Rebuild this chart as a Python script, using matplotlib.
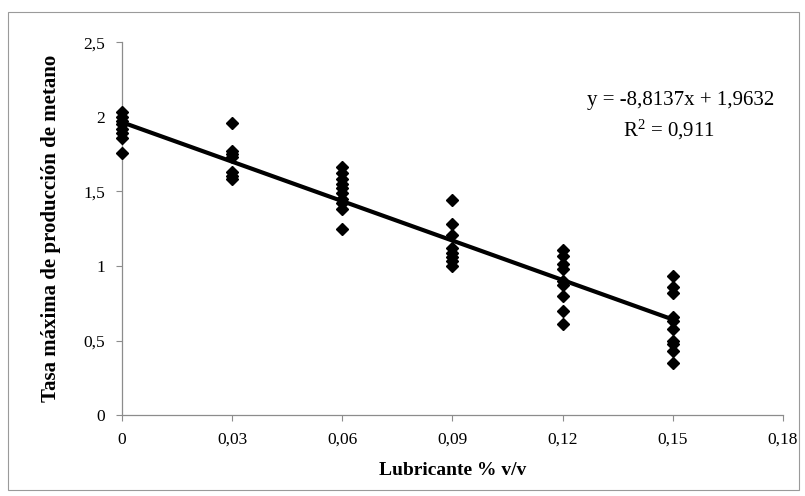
import matplotlib
matplotlib.use("Agg")
import matplotlib.pyplot as plt
from matplotlib.ticker import FuncFormatter
from matplotlib.patches import Rectangle

# lubricant dose (% v/v) and measured max methane production rate
x_levels = [0, 0.03, 0.06, 0.09, 0.12, 0.15]
y_0 = [2.03, 2.0, 1.97, 1.95, 1.92, 1.89, 1.86, 1.76]
y_03 = [1.96, 1.77, 1.75, 1.73, 1.63, 1.60, 1.58]
y_06 = [1.66, 1.62, 1.58, 1.55, 1.52, 1.49, 1.45, 1.42, 1.38, 1.25]
y_09 = [1.44, 1.28, 1.21, 1.12, 1.09, 1.06, 1.03, 1.00]
y_12 = [1.11, 1.07, 1.01, 0.98, 0.90, 0.87, 0.80, 0.70, 0.61]
y_15 = [0.93, 0.86, 0.82, 0.66, 0.63, 0.58, 0.50, 0.48, 0.43, 0.35]
groups = [y_0, y_03, y_06, y_09, y_12, y_15]

slope = -8.8137
intercept = 1.9632
r2 = 0.911

plt.rcParams['font.family'] = ['Liberation Serif', 'DejaVu Serif']

fig = plt.figure(figsize=(8.05, 4.96), dpi=100)
ax = fig.add_axes([0.1516, 0.163, 0.821, 0.752])

# outer frame around the whole chart
fig.patches.append(Rectangle((0.010, 0.012), 0.983, 0.964, transform=fig.transFigure,
                             fill=False, edgecolor='#9a9a9a', linewidth=0.8))

for xv, ys in zip(x_levels, groups):
    ax.plot([xv] * len(ys), ys, linestyle='none', marker='D', markersize=6.5,
            color='black', clip_on=False, zorder=3)

xl = [x_levels[0], x_levels[-1]]
ax.plot(xl, [slope * v + intercept for v in xl], color='black', linewidth=3,
        clip_on=False, zorder=3)

ax.set_xlim(0, 0.18)
ax.set_ylim(0, 2.5)
ax.set_xticks([0, 0.03, 0.06, 0.09, 0.12, 0.15, 0.18])
ax.set_yticks([0, 0.5, 1, 1.5, 2, 2.5])
comma = FuncFormatter(lambda v, p: ('%g' % round(v, 2)).replace('.', ','))
ax.xaxis.set_major_formatter(comma)
ax.yaxis.set_major_formatter(comma)

for s in ['top', 'right']:
    ax.spines[s].set_visible(False)
for s in ['left', 'bottom']:
    ax.spines[s].set_color('#8c8c8c')
    ax.spines[s].set_linewidth(0.9)
ax.tick_params(direction='out', length=4, width=0.8, color='#8c8c8c',
               labelsize=12.5, pad=8)

ax.set_xlabel('Lubricante % v/v', fontsize=14, fontweight='bold', labelpad=10)
ax.set_ylabel('Tasa máxima de producción de metano', fontsize=15,
              fontweight='bold', labelpad=16)

eq = 'y = %sx + %s' % (str(slope).replace('.', ','), str(intercept).replace('.', ','))
ax.text(0.152, 2.11, eq, ha='center', va='center', fontsize=15)
ax.text(0.149, 1.91, '$\\mathregular{R^2}$ = ' + str(r2).replace('.', ','),
        ha='center', va='center', fontsize=15)

fig.savefig('out.png', dpi=100)
